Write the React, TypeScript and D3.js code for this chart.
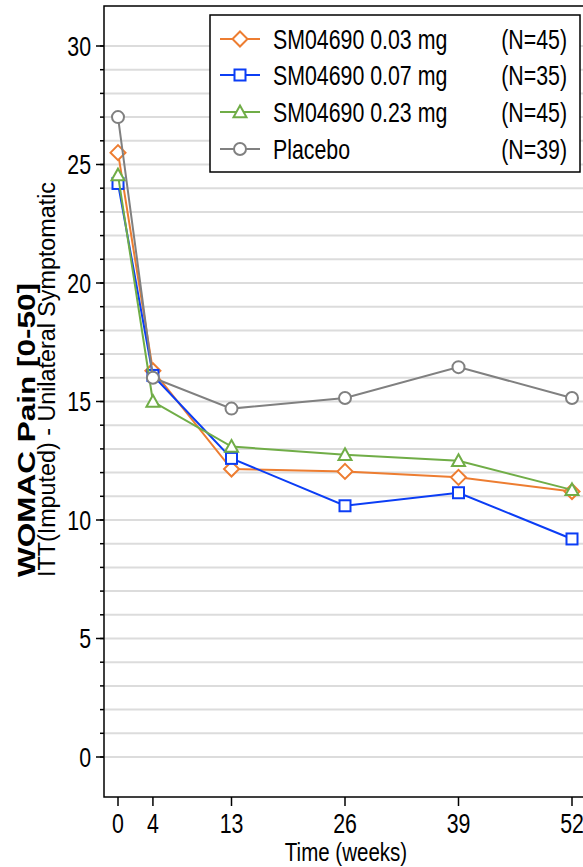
import React from "react";
import * as d3 from "d3";

const weeks = [0, 4, 13, 26, 39, 52];
const xTicks = [0, 4, 13, 26, 39, 52];
const yTicks = [0, 5, 10, 15, 20, 25, 30];
const yMinor = d3.range(0, 31);

const seriesNames = ["SM04690 0.03 mg", "SM04690 0.07 mg", "SM04690 0.23 mg", "Placebo"];
const seriesN = ["(N=45)", "(N=35)", "(N=45)", "(N=39)"];
const seriesColors = ["#ED7D31", "#0B3DF5", "#70AD47", "#808080"];
const seriesSymbols = ["diamond", "square", "triangle", "circle"];

const dose003 = [25.5, 16.3, 12.15, 12.05, 11.8, 11.2];
const dose007 = [24.2, 16.1, 12.6, 10.6, 11.15, 9.2];
const dose023 = [24.55, 15.0, 13.1, 12.75, 12.5, 11.27];
const placebo = [27.0, 16.0, 14.7, 15.15, 16.45, 15.15];
const seriesValues = [dose003, dose007, dose023, placebo];

const W = 583;
const H = 867;
const frame = { left: 104, right: 587, top: 6, bottom: 797 };
const x = d3.scaleLinear().domain([0, 52]).range([118, 572]);
const y = d3.scaleLinear().domain([0, 30]).range([757, 46]);

const FONT = "'Liberation Sans', Arial, sans-serif";
const SQ = 0.79;
const FS = 27;

function Marker({ type, cx, cy, color }: { type: string; cx: number; cy: number; color: string }) {
  const sw = 2;
  if (type === "diamond") {
    const r = 7.5;
    return <path d={`M${cx},${cy - r}L${cx + r},${cy}L${cx},${cy + r}L${cx - r},${cy}Z`} fill="white" stroke={color} strokeWidth={sw} />;
  }
  if (type === "square") {
    const r = 5.5;
    return <rect x={cx - r} y={cy - r} width={2 * r} height={2 * r} fill="white" stroke={color} strokeWidth={sw} />;
  }
  if (type === "triangle") {
    const r = 6.5;
    return <path d={`M${cx},${cy - r}L${cx + r},${cy + r * 0.8}L${cx - r},${cy + r * 0.8}Z`} fill="white" stroke={color} strokeWidth={sw} />;
  }
  return <circle cx={cx} cy={cy} r={6} fill="white" stroke={color} strokeWidth={sw} />;
}

function HText({ x0, y0, anchor, size, children, weight }: any) {
  return (
    <text
      transform={`translate(${x0},${y0}) scale(${SQ},1)`}
      textAnchor={anchor}
      fontSize={size}
      fontFamily={FONT}
      fontWeight={weight || "normal"}
      fill="#000"
    >
      {children}
    </text>
  );
}

export default function App() {
  const line = d3
    .line<number>()
    .x((_, i) => x(weeks[i]))
    .y((v) => y(v));

  const legendRowY = [39, 75, 112, 149];

  return (
    <div style={{ position: "absolute", left: 0, top: 0 }}>
      <svg width={W} height={H} style={{ display: "block", background: "white" }}>
        {/* gridlines */}
        {yMinor.map((v) => (
          <line key={"g" + v} x1={frame.left + 1} x2={frame.right} y1={y(v)} y2={y(v)} stroke="#DCDCDC" strokeWidth={2} />
        ))}
        {/* frame */}
        <rect x={frame.left} y={frame.top} width={frame.right - frame.left} height={frame.bottom - frame.top} fill="none" stroke="#000" strokeWidth={1.5} />
        {/* y ticks */}
        {yMinor.map((v) => (
          <line key={"ym" + v} x1={frame.left - 4} x2={frame.left} y1={y(v)} y2={y(v)} stroke="#000" strokeWidth={1.5} />
        ))}
        {yTicks.map((v) => (
          <g key={"yt" + v}>
            <line x1={frame.left - 8} x2={frame.left} y1={y(v)} y2={y(v)} stroke="#000" strokeWidth={1.5} />
            <HText x0={91} y0={y(v) + 9.5} anchor="end" size={FS}>{v}</HText>
          </g>
        ))}
        {/* x ticks */}
        {xTicks.map((v) => (
          <g key={"xt" + v}>
            <line x1={x(v)} x2={x(v)} y1={frame.bottom} y2={frame.bottom + 9} stroke="#000" strokeWidth={1.5} />
            <HText x0={x(v)} y0={832.5} anchor="middle" size={FS}>{v}</HText>
          </g>
        ))}
        <HText x0={346} y0={861} anchor="middle" size={26}>Time (weeks)</HText>
        {/* y titles */}
        <text transform={`translate(35,577) rotate(-90)`} fontSize={23.5} fontWeight="bold" fontFamily={FONT} textLength={294} lengthAdjust="spacingAndGlyphs">WOMAC Pain [0-50]</text>
        <text transform={`translate(55,577) rotate(-90)`} fontSize={23} fontFamily={FONT} textLength={395} lengthAdjust="spacingAndGlyphs">ITT(Imputed) - Unilateral Symptomatic</text>
        {/* series */}
        {seriesValues.map((vals, si) => (
          <g key={"s" + si}>
            <path d={line(vals) || ""} fill="none" stroke={seriesColors[si]} strokeWidth={2} />
            {vals.map((v, i) => (
              <Marker key={i} type={seriesSymbols[si]} cx={x(weeks[i])} cy={y(v)} color={seriesColors[si]} />
            ))}
          </g>
        ))}
        {/* legend */}
        <rect x={210} y={15} width={370} height={157} fill="white" stroke="#000" strokeWidth={1.5} />
        {seriesNames.map((name, i) => (
          <g key={"l" + i}>
            <line x1={220} x2={260} y1={legendRowY[i]} y2={legendRowY[i]} stroke={seriesColors[i]} strokeWidth={2} />
            <Marker type={seriesSymbols[i]} cx={240} cy={legendRowY[i]} color={seriesColors[i]} />
            <HText x0={273} y0={legendRowY[i] + 9.5} anchor="start" size={FS}>{name}</HText>
            <HText x0={567} y0={legendRowY[i] + 9.5} anchor="end" size={FS}>{seriesN[i]}</HText>
          </g>
        ))}
      </svg>
    </div>
  );
}
